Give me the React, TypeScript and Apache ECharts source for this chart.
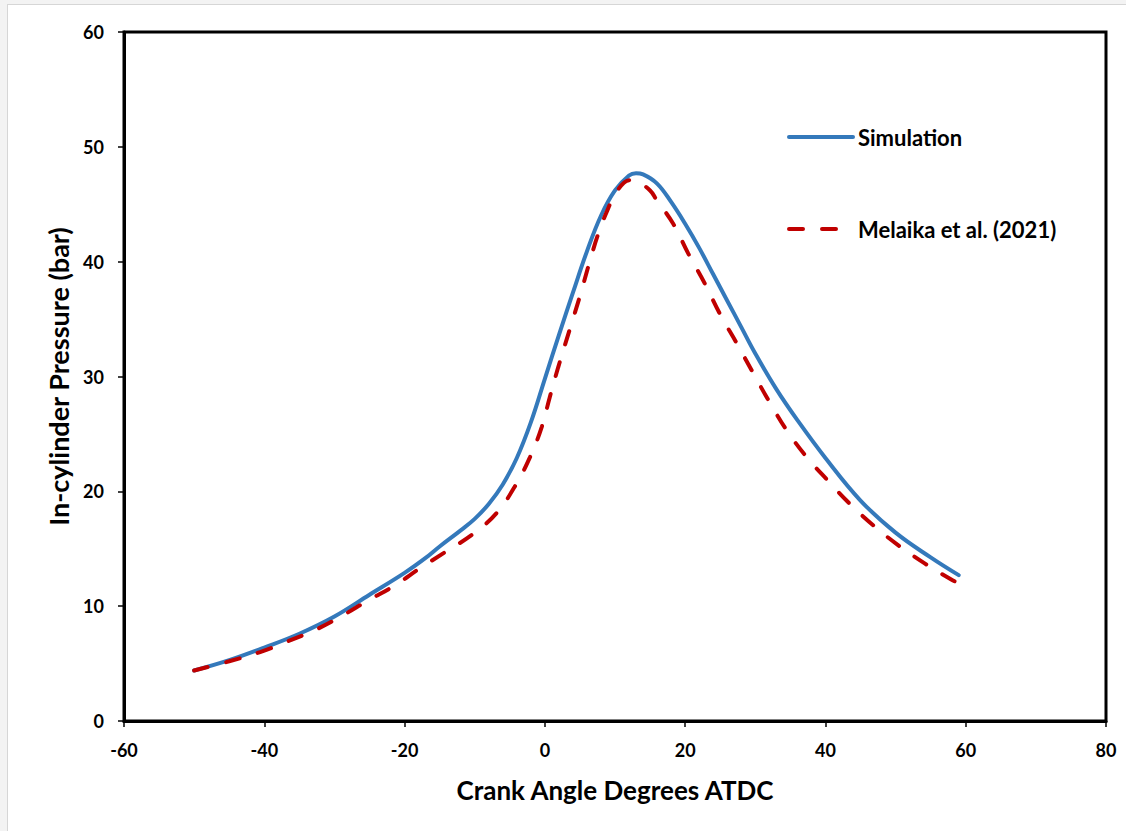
import React, { useEffect, useRef } from "react";
import * as echarts from "echarts";

const simX = [-50, -45, -40, -35, -30, -25, -20, -17, -15, -12, -10, -8, -6, -4, -2, 0, 2, 4, 6, 8, 10, 12, 13, 14, 16, 18, 20, 22, 24, 26, 28, 30, 33, 36, 40, 45, 50, 55, 59];
const simY = [4.4, 5.3, 6.4, 7.6, 9.1, 11.0, 12.9, 14.2, 15.2, 16.6, 17.6, 18.9, 20.6, 22.9, 26.0, 29.8, 33.6, 37.3, 40.9, 44.0, 46.2, 47.5, 47.7, 47.6, 46.8, 45.2, 43.3, 41.2, 38.9, 36.6, 34.3, 32.0, 28.9, 26.2, 22.9, 19.2, 16.4, 14.25, 12.7];

const expX = [-50, -45, -40.6, -36.8, -32.5, -28.8, -25.2, -21.4, -17.8, -14.5, -10.2, -6.9, -4.3, -2.1, -0.45, 0.7, 1.9, 3.6, 5.0, 6.44, 7.6, 8.8, 10.24, 12.1, 13.1, 15.0, 15.9, 18.3, 20.45, 22.8, 25.0, 27.35, 29.7, 32.1, 34.5, 37.3, 40.4, 43.5, 46.8, 50.4, 54.2, 58.0, 59.0];
const expY = [4.4, 5.2, 6.0, 6.9, 8.0, 9.2, 10.5, 11.8, 13.3, 14.6, 16.3, 18.1, 20.4, 23.0, 25.6, 28.2, 30.8, 34.2, 37.0, 40.1, 42.4, 44.3, 46.1, 47.1, 47.0, 46.2, 45.4, 43.3, 40.7, 38.1, 35.4, 32.9, 30.3, 27.7, 25.3, 23.0, 20.9, 18.9, 17.05, 15.3, 13.7, 12.3, 12.0];

const seriesNames = ["Simulation", "Melaika et al. (2021)"];
const xTitle = "Crank Angle Degrees ATDC";
const yTitle = "In-cylinder Pressure (bar)";

const FONT = "Lato";

export default function App() {
  const ref = useRef<HTMLDivElement>(null);
  useEffect(() => {
    if (!ref.current) return;
    const chart = echarts.init(ref.current, undefined, { renderer: "svg" });
    const sim = simX.map((x, i) => [x, simY[i]]);
    const exp = expX.map((x, i) => [x, expY[i]]);
    chart.setOption({
      animation: false,
      grid: {
        left: 124,
        right: 20,
        top: 32,
        bottom: 110,
        show: true,
        borderColor: "#000",
        borderWidth: 3,
        backgroundColor: "transparent",
      },
      legend: {
        orient: "vertical",
        left: 782,
        top: 121,
        itemGap: 70,
        itemWidth: 64,
        itemHeight: 20,
        itemStyle: { opacity: 0 },
        lineStyle: { width: 4 },
        textStyle: {
          fontFamily: FONT,
          fontWeight: "bold",
          fontSize: 22,
          color: "#000",
          lineHeight: 20,
          padding: [0, 0, 0, 0],
        },
        data: seriesNames,
      },
      xAxis: {
        type: "value",
        min: -60,
        max: 80,
        interval: 20,
        name: xTitle,
        nameLocation: "middle",
        nameGap: 56,
        nameTextStyle: { fontFamily: FONT, fontWeight: "bold", fontSize: 26, color: "#000" },
        splitLine: { show: false },
        axisLine: { onZero: false, lineStyle: { color: "#000", width: 3 } },
        axisTick: { show: true, length: 6, lineStyle: { color: "#000", width: 1.5 } },
        axisLabel: { margin: 20, fontFamily: FONT, fontWeight: "bold", fontSize: 18, color: "#000" },
      },
      yAxis: {
        type: "value",
        min: 0,
        max: 60,
        interval: 10,
        name: yTitle,
        nameLocation: "middle",
        nameGap: 50,
        nameRotate: 90,
        nameTextStyle: { fontFamily: FONT, fontWeight: "bold", fontSize: 27, color: "#000" },
        splitLine: { show: false },
        axisLine: { onZero: false, lineStyle: { color: "#000", width: 3 } },
        axisTick: { show: true, length: 6, lineStyle: { color: "#000", width: 1.5 } },
        axisLabel: { margin: 20, fontFamily: FONT, fontWeight: "bold", fontSize: 18, color: "#000" },
      },
      series: [
        {
          name: seriesNames[0],
          type: "line",
          data: sim,
          smooth: 0.4,
          symbol: "none",
          lineStyle: { color: "#3479bb", width: 4, cap: "round" },
          itemStyle: { color: "#3479bb" },
          z: 2,
        },
        {
          name: seriesNames[1],
          type: "line",
          data: exp,
          smooth: 0.4,
          symbol: "none",
          lineStyle: { color: "#c00000", width: 4, type: [14, 19], cap: "round" },
          itemStyle: { color: "#c00000" },
          z: 3,
        },
      ],
    });
    return () => chart.dispose();
  }, []);

  return (
    <div style={{ position: "fixed", left: 0, top: 0, width: 1126, height: 831, background: "#f3f3f3", overflow: "hidden" }}>
      <div
        style={{
          position: "absolute",
          left: 7,
          top: 4,
          width: 1130,
          height: 840,
          background: "#fff",
          border: "1px solid #d6d6d6",
        }}
      />
      <div ref={ref} style={{ position: "absolute", left: 0, top: 0, width: 1126, height: 831 }} />
    </div>
  );
}
